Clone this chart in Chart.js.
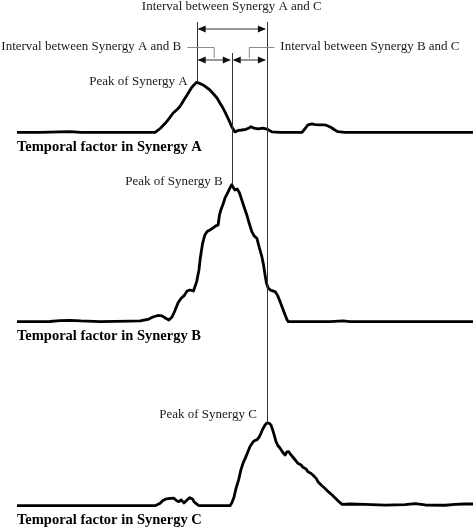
<!DOCTYPE html>
<html>
<head>
<meta charset="utf-8">
<script src="https://cdn.jsdelivr.net/npm/chart.js@4.4.0/dist/chart.umd.min.js"></script>
<style>
    html, body { margin: 0; padding: 0; background: #fff; }
    #wrap { width: 474px; height: 528px; position: relative; }
</style>
</head>
<body>
<div id="wrap"><canvas id="synergyChart"></canvas></div>
<script>
// Time axis in % of the cycle, amplitude normalised to the peak of synergy B
const synergyA_x = [0, 5.0, 9.4, 11.6, 14.0, 22.6, 30.3, 31.4, 32.5, 33.3, 34.2, 35.1, 35.7, 36.6, 37.3, 38.2, 38.8, 39.4, 40.1, 40.8, 41.4, 42.3, 43.2, 43.9, 44.5, 45.0, 45.6, 46.1, 46.7, 47.1, 47.8, 48.5, 49.3, 50.2, 50.9, 51.3, 52.0, 52.9, 53.9, 55.0, 55.9, 57.7, 62.5, 63.2, 63.8, 64.7, 65.4, 66.4, 67.5, 68.2, 68.9, 69.7, 70.4, 71.9, 84.0, 100];
const synergyA_y = [0, 0, 0.004, 0.006, 0.001, 0, 0.001, 0.029, 0.067, 0.099, 0.140, 0.168, 0.188, 0.237, 0.274, 0.323, 0.347, 0.366, 0.358, 0.347, 0.332, 0.310, 0.277, 0.250, 0.215, 0.188, 0.150, 0.115, 0.073, 0.042, 0.004, 0.015, 0.018, 0.023, 0.033, 0.042, 0.031, 0.026, 0.031, 0.022, 0.004, 0, 0.001, 0.029, 0.055, 0.062, 0.058, 0.055, 0.056, 0.047, 0.036, 0.018, 0.006, 0, 0, 0];

const synergyB_x = [0, 7.2, 9.4, 11.6, 14.0, 18.2, 24.8, 27.0, 28.7, 29.8, 30.9, 31.8, 32.7, 33.3, 34.0, 34.6, 35.3, 36.0, 36.6, 37.3, 37.9, 38.7, 39.4, 39.9, 40.2, 40.7, 41.2, 41.7, 42.3, 43.1, 43.6, 44.1, 44.4, 44.7, 45.2, 45.6, 46.3, 46.7, 47.1, 47.4, 47.8, 48.3, 48.8, 49.3, 49.8, 50.4, 50.9, 51.5, 52.0, 52.6, 53.1, 53.7, 54.1, 54.4, 54.7, 55.1, 55.7, 56.6, 57.1, 57.7, 58.3, 58.8, 59.2, 59.5, 68.6, 71.5, 73.0, 100];
const synergyB_y = [0, 0.001, 0.007, 0.010, 0.005, 0, 0.004, 0.005, 0.016, 0.034, 0.045, 0.042, 0.023, 0.012, 0.034, 0.078, 0.136, 0.171, 0.188, 0.224, 0.231, 0.224, 0.292, 0.377, 0.465, 0.572, 0.633, 0.658, 0.669, 0.686, 0.699, 0.706, 0.777, 0.815, 0.859, 0.901, 0.947, 0.976, 1.0, 0.980, 0.961, 0.969, 0.939, 0.888, 0.837, 0.779, 0.720, 0.657, 0.626, 0.609, 0.545, 0.474, 0.407, 0.341, 0.282, 0.244, 0.228, 0.219, 0.195, 0.146, 0.093, 0.049, 0.016, 0, 0, 0.005, 0, 0];

const synergyC_x = [0, 9.4, 16.0, 30.3, 31.4, 32.0, 32.7, 33.6, 34.4, 35.1, 35.5, 36.0, 36.6, 37.3, 37.9, 38.5, 38.8, 39.5, 39.9, 46.7, 47.1, 47.6, 48.0, 48.6, 49.1, 49.6, 50.2, 50.7, 51.1, 51.8, 52.2, 52.6, 53.1, 53.5, 53.9, 54.4, 54.8, 55.3, 55.7, 56.0, 56.4, 56.8, 57.2, 57.7, 58.3, 58.8, 59.2, 59.6, 60.1, 60.7, 61.2, 61.6, 62.3, 62.7, 63.4, 63.8, 64.5, 64.9, 65.6, 66.0, 66.7, 67.5, 68.2, 69.1, 70.0, 70.6, 71.3, 73.0, 76.3, 80.7, 85.1, 87.3, 89.5, 93.9, 96.1, 98.2, 100];
const synergyC_y = [0, 0, 0.001, 0, 0.018, 0.038, 0.049, 0.053, 0.054, 0.034, 0.029, 0.042, 0.020, 0.042, 0.058, 0.049, 0.029, 0.009, 0, 0, 0.020, 0.064, 0.122, 0.188, 0.261, 0.312, 0.358, 0.399, 0.431, 0.467, 0.476, 0.480, 0.501, 0.528, 0.560, 0.589, 0.604, 0.601, 0.589, 0.560, 0.516, 0.467, 0.439, 0.419, 0.388, 0.370, 0.393, 0.394, 0.370, 0.346, 0.326, 0.309, 0.297, 0.280, 0.268, 0.248, 0.235, 0.224, 0.199, 0.175, 0.151, 0.127, 0.104, 0.078, 0.049, 0.029, 0.010, 0.012, 0.009, 0.004, 0.007, 0.015, 0.005, 0.003, 0.009, 0.012, 0.012];

const panelLabels = ['Temporal factor in Synergy A', 'Temporal factor in Synergy B', 'Temporal factor in Synergy C'];
const peakLabels = ['Peak of Synergy A', 'Peak of Synergy B', 'Peak of Synergy C'];
const intervalLabels = ['Interval between Synergy A and C', 'Interval between Synergy A and B', 'Interval between Synergy B and C'];

function toPoints(xs, ys) {
    return xs.map((x, i) => ({ x: x, y: ys[i] }));
}

function peakIndex(ys) {
    let best = 0;
    ys.forEach((v, i) => { if (v > ys[best]) best = i; });
    return best;
}

function arrowHead(ctx, x, y, dir) {
    // dir = -1 points left, 1 points right
    ctx.beginPath();
    ctx.moveTo(x, y);
    ctx.lineTo(x - dir * 8, y - 3.5);
    ctx.lineTo(x - dir * 8, y + 3.5);
    ctx.closePath();
    ctx.fill();
}

function doubleArrow(ctx, x1, x2, y) {
    ctx.beginPath();
    ctx.moveTo(x1 + 2, y);
    ctx.lineTo(x2 - 2, y);
    ctx.stroke();
    arrowHead(ctx, x1 + 1, y, -1);
    arrowHead(ctx, x2 - 1, y, 1);
}

// Draw peak markers, interval arrows and labels on top of the curves
const annotationPlugin = {
    id: 'synergyAnnotations',
    afterDatasetsDraw(chart) {
        const ctx = chart.ctx;
        const xs = chart.scales.x;
        const axes = ['yA', 'yB', 'yC'];
        const series = [[synergyA_x, synergyA_y], [synergyB_x, synergyB_y], [synergyC_x, synergyC_y]];

        const peaks = series.map((s, k) => {
            const i = peakIndex(s[1]);
            return { x: xs.getPixelForValue(s[0][i]), y: chart.scales[axes[k]].getPixelForValue(s[1][i]) };
        });
        const pA = peaks[0], pB = peaks[1], pC = peaks[2];

        ctx.save();
        ctx.strokeStyle = '#333';
        ctx.fillStyle = '#111';
        ctx.lineWidth = 1;

        // vertical lines through each peak
        [[pA, 22], [pB, 53], [pC, 22]].forEach(([p, top]) => {
            ctx.beginPath();
            ctx.moveTo(Math.round(p.x) + 0.5, top);
            ctx.lineTo(Math.round(p.x) + 0.5, p.y);
            ctx.stroke();
        });

        // interval arrows
        doubleArrow(ctx, pA.x, pC.x, 29);
        doubleArrow(ctx, pA.x, pB.x, 60);
        doubleArrow(ctx, pB.x, pC.x, 60);

        // grey leader lines
        const midAB = (pA.x + pB.x) / 2;
        const midBC = (pB.x + pC.x) / 2;
        ctx.strokeStyle = '#8a8a8a';
        ctx.beginPath();
        ctx.moveTo(midAB - 27, 47.5);
        ctx.lineTo(midAB, 47.5);
        ctx.lineTo(midAB, 58);
        ctx.moveTo(midBC + 25, 47.5);
        ctx.lineTo(midBC, 47.5);
        ctx.lineTo(midBC, 58);
        ctx.stroke();

        // interval + peak texts
        ctx.fillStyle = '#1a1a1a';
        ctx.font = '13px "Liberation Serif", "Times New Roman", serif';
        ctx.textBaseline = 'middle';
        ctx.textAlign = 'center';
        ctx.fillText(intervalLabels[0], (pA.x + pC.x) / 2, 7);
        ctx.textAlign = 'right';
        ctx.fillText(intervalLabels[1], midAB - 33, 47);
        ctx.textAlign = 'left';
        ctx.fillText(intervalLabels[2], midBC + 31, 47);

        ctx.textAlign = 'right';
        ctx.fillText(peakLabels[0], pA.x - 9, pA.y - 1);
        ctx.fillText(peakLabels[1], pB.x - 9, pB.y - 3);
        ctx.fillText(peakLabels[2], pC.x - 10, pC.y - 8);

        // bold panel titles under each baseline
        ctx.fillStyle = '#000';
        ctx.font = 'bold 14.5px "Liberation Serif", "Times New Roman", serif';
        ctx.textAlign = 'left';
        axes.forEach((id, k) => {
            const base = chart.scales[id].getPixelForValue(0);
            ctx.fillText(panelLabels[k], chart.chartArea.left, base + 14.5);
        });
        ctx.restore();
    }
};

const lineStyle = {
    borderColor: '#000',
    borderWidth: 2.8,
    pointRadius: 0,
    tension: 0,
    borderJoinStyle: 'round',
    borderCapStyle: 'round',
    fill: false
};

new Chart(document.getElementById('synergyChart'), {
    type: 'line',
    data: {
        datasets: [
            Object.assign({ label: 'Synergy A', data: toPoints(synergyA_x, synergyA_y), yAxisID: 'yA' }, lineStyle),
            Object.assign({ label: 'Synergy B', data: toPoints(synergyB_x, synergyB_y), yAxisID: 'yB' }, lineStyle),
            Object.assign({ label: 'Synergy C', data: toPoints(synergyC_x, synergyC_y), yAxisID: 'yC' }, lineStyle)
        ]
    },
    options: {
        responsive: true,
        maintainAspectRatio: false,
        animation: false,
        layout: { padding: { left: 17, right: 1, top: 0, bottom: 0 } },
        plugins: {
            legend: { display: false },
            tooltip: { enabled: false }
        },
        scales: {
            x: { type: 'linear', min: 0, max: 100, display: false },
            // three stacked panels, top to bottom
            yA: { type: 'linear', position: 'right', stack: 'panels', stackWeight: 150, min: -0.128, max: 0.967, display: false },
            yB: { type: 'linear', position: 'right', stack: 'panels', stackWeight: 190, min: -0.134, max: 1.253, display: false },
            yC: { type: 'linear', position: 'right', stack: 'panels', stackWeight: 188, min: -0.163, max: 1.209, display: false }
        }
    },
    plugins: [annotationPlugin]
});
</script>
</body>
</html>
